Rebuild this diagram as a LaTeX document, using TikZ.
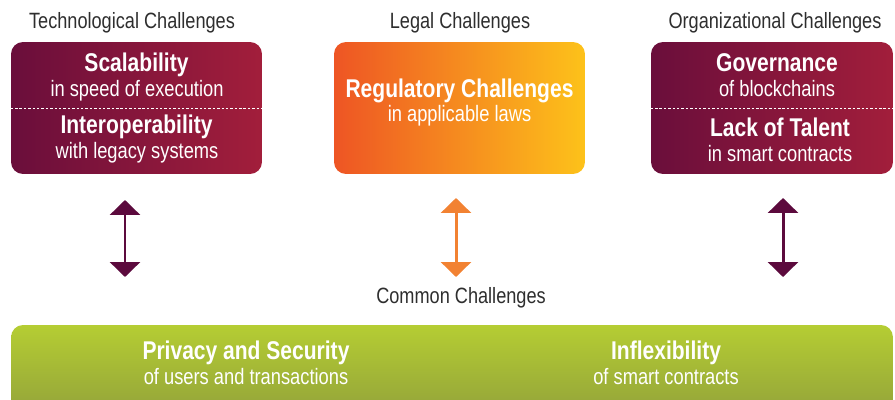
\documentclass[tikz,border=0pt]{standalone}
\usepackage{fontspec}
\setmainfont{Liberation Sans}[FakeStretch=0.82]
\usetikzlibrary{arrows.meta}

\definecolor{wineL}{HTML}{6A0E3B}
\definecolor{wineR}{HTML}{A21E3B}
\definecolor{orangeL}{HTML}{EE5524}
\definecolor{orangeR}{HTML}{FDC21A}
\definecolor{limeT}{HTML}{B5CD33}
\definecolor{limeB}{HTML}{93A33A}
\definecolor{arrowWine}{HTML}{5C0A3D}
\definecolor{arrowOrange}{HTML}{F28232}
\definecolor{capgray}{HTML}{2E2E2E}

\tikzset{
  heading/.style={text=capgray, font=\fontsize{12.6}{14}\selectfont, anchor=base},
  boxbase/.style={rounded corners=0.24cm, minimum height=2.64cm, inner sep=0pt},
  winebox/.style={boxbase, left color=wineL, right color=wineR},
  legalbox/.style={boxbase, left color=orangeL, right color=orangeR},
  commonbox/.style={rounded corners=0.24cm, inner sep=0pt, top color=limeT, bottom color=limeB,
    minimum width=17.64cm, minimum height=1.8cm},
  divider/.style={white, line width=0.5pt, dash pattern=on 1.4pt off 1.1pt},
  maintxt/.style={text=white, font=\bfseries\fontsize{14.6}{16}\selectfont, anchor=base},
  subtxt/.style={text=white, font=\fontsize{12.7}{14}\selectfont, anchor=base},
  twoway/.style={{Triangle[width=17pt,length=8.5pt]}-{Triangle[width=17pt,length=8.5pt]}, line width=1.7pt}
}

\begin{document}
\begin{tikzpicture}[x=0.02cm, y=-0.02cm]
\useasboundingbox (0,0) rectangle (895,399);
\clip (0,0) rectangle (895,399);

% headings
\node[heading] (techhead) at (132,29) {Technological Challenges};
\node[heading] (legalhead) at (460,29) {Legal Challenges};
\node[heading] (orghead) at (775,29) {Organizational Challenges};
\node[heading] (commonhead) at (461,303) {Common Challenges};

% boxes
\node[winebox, minimum width=5.02cm] (tech) at (136.5,108) {};
\node[legalbox, minimum width=5.02cm] (legal) at (459.5,108) {};
\node[winebox, minimum width=4.84cm] (org) at (772,108) {};
\node[commonbox] (common) at (452,370) {};
\draw[divider] (tech.west) -- (tech.east);
\draw[divider] (org.west) -- (org.east);

% box texts
\node[maintxt] (scal) at (136.5,71) {Scalability};
\node[subtxt] (scalsub) at (137,96) {in speed of execution};
\node[maintxt] (inter) at (136.5,133) {Interoperability};
\node[subtxt] (intersub) at (137,158) {with legacy systems};
\node[maintxt] (reg) at (459.5,97) {Regulatory Challenges};
\node[subtxt] (regsub) at (459.5,121) {in applicable laws};
\node[maintxt] (gov) at (777,71) {Governance};
\node[subtxt] (govsub) at (777,96) {of blockchains};
\node[maintxt] (talent) at (780,136) {Lack of Talent};
\node[subtxt] (talentsub) at (780,161) {in smart contracts};
\node[maintxt] (priv) at (246,359) {Privacy and Security};
\node[subtxt] (privsub) at (246,384) {of users and transactions};
\node[maintxt] (inflex) at (666,359) {Inflexibility};
\node[subtxt] (inflexsub) at (666,384) {of smart contracts};

% arrows
\coordinate (techtop) at (125,200);
\coordinate (techbot) at (125,277);
\coordinate (legaltop) at (456,198);
\coordinate (legalbot) at (456,277);
\coordinate (orgtop) at (783,198);
\coordinate (orgbot) at (783,277);
\draw[twoway, arrowWine] (techtop) -- (techbot);
\draw[twoway, arrowOrange] (legaltop) -- (legalbot);
\draw[twoway, arrowWine] (orgtop) -- (orgbot);
\end{tikzpicture}
\end{document}
